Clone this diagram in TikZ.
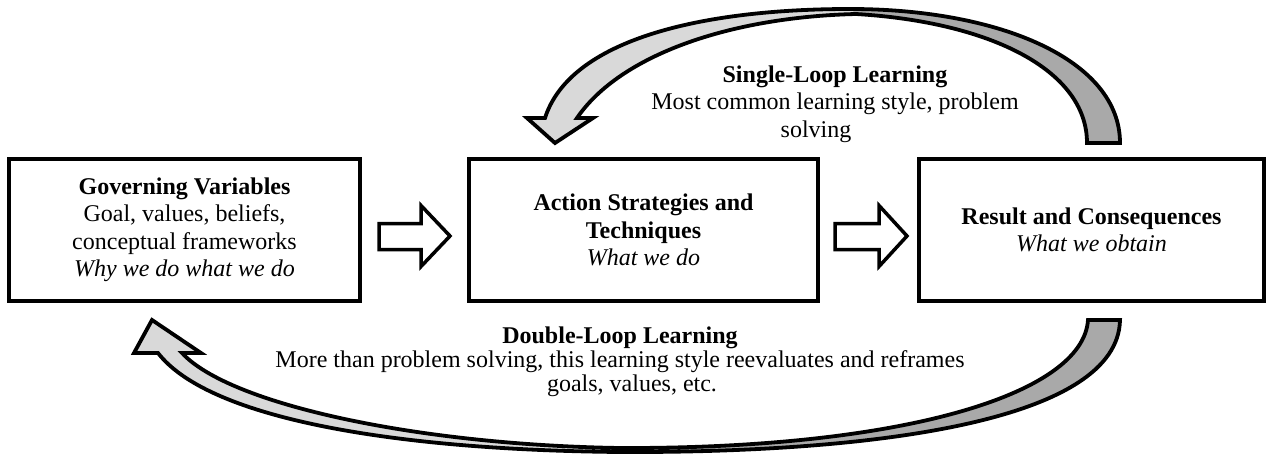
\documentclass[tikz,border=0pt]{standalone}
\usepackage{fontspec}
\setmainfont{Liberation Serif}
\definecolor{lightloop}{HTML}{D9D9D9}
\definecolor{darkloop}{HTML}{A9A9A9}
\begin{document}
\begin{tikzpicture}[x=1pt,y=-1pt,
  box/.style={draw, line width=4pt, rectangle, inner sep=0pt, align=center,
    minimum height=142pt, font=\fontsize{24}{27.5}\selectfont},
  blockarrow/.style={draw, line width=3.5pt, fill=white, line join=miter},
  loopline/.style={draw, line width=3.8pt, line join=miter},
  lbl/.style={inner sep=0pt, align=center, font=\fontsize{24}{27.5}\selectfont}]
\useasboundingbox (0,0) rectangle (1269,455);

% boxes
\node[box, minimum width=351pt] (gov) at (184.5,230)
  {\textbf{Governing Variables}\\Goal, values, beliefs,\\conceptual frameworks\\\textit{Why we do what we do}};
\node[box, minimum width=349pt] (act) at (643.5,230)
  {\textbf{Action Strategies and}\\\textbf{Techniques}\\\textit{What we do}};
\node[box, minimum width=345pt] (res) at (1091.5,230)
  {\textbf{Result and Consequences}\\\textit{What we obtain}};

% straight block arrows
\draw[blockarrow] (379,223.5) -- (421,223.5) -- (421,205.5) -- (450,236) -- (421,266.5) -- (421,249.5) -- (379,249.5) -- cycle;
\draw[blockarrow] (835,223.5) -- (879,223.5) -- (879,205.5) -- (907,236) -- (879,266.5) -- (879,249.5) -- (835,249.5) -- cycle;

% single-loop curved arrow (top)
\coordinate (sTop) at (850,9);
\coordinate (sTopIn) at (856,14);
\fill[darkloop] (sTop) .. controls (1000,9) and (1120,60) .. (1120,143)
  -- (1087,143) .. controls (1087,70) and (990,22) .. (sTopIn) -- cycle;
\fill[lightloop] (sTop) .. controls (700,9) and (570,40) .. (545,118)
  -- (527,118) -- (555,143) -- (593,118) -- (577,118)
  .. controls (620,55) and (730,17) .. (sTopIn) -- cycle;
\draw[loopline] (545,118) .. controls (570,40) and (700,9) .. (sTop)
  .. controls (1000,9) and (1120,60) .. (1120,143)
  -- (1087,143) .. controls (1087,70) and (990,22) .. (sTopIn)
  .. controls (730,17) and (620,55) .. (577,118)
  -- (593,118) -- (555,143) -- (527,118) -- cycle;

% double-loop curved arrow (bottom)
\coordinate (dBot) at (620,452);
\coordinate (dBotIn) at (620,448);
\fill[darkloop] (dBot) .. controls (880,453) and (1118,420) .. (1120,320)
  -- (1088,320) .. controls (1083,395) and (900,449) .. (dBotIn) -- cycle;
\fill[lightloop] (dBot) .. controls (400,450) and (210,420) .. (158,353)
  -- (134,353) -- (152,320) -- (201,353) -- (182,353)
  .. controls (230,405) and (420,445) .. (dBotIn) -- cycle;
\draw[loopline] (158,353) .. controls (210,420) and (400,450) .. (dBot)
  .. controls (880,453) and (1118,420) .. (1120,320)
  -- (1088,320) .. controls (1083,395) and (900,449) .. (dBotIn)
  .. controls (420,445) and (230,405) .. (182,353)
  -- (201,353) -- (152,320) -- (134,353) -- cycle;

% labels
\node[lbl] (single) at (835,104)
  {\textbf{Single-Loop Learning}\\Most common learning style, problem\\solving\hspace*{38pt}};
\node[lbl, font=\fontsize{24}{24}\selectfont] (double) at (620,362)
  {\textbf{Double-Loop Learning}\\More than problem solving, this learning style reevaluates and reframes\\\hspace*{24pt}goals, values, etc.};
\end{tikzpicture}
\end{document}
